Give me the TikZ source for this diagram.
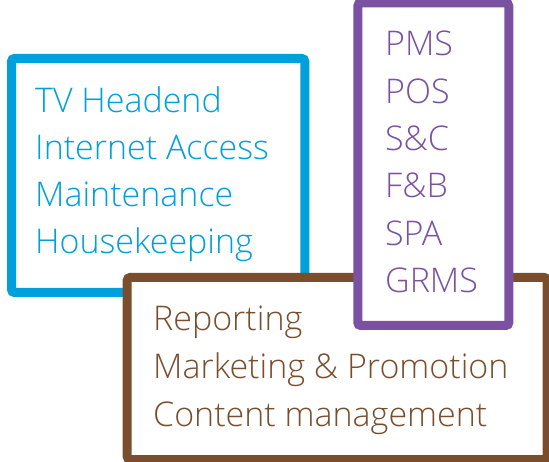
\documentclass[tikz,border=0pt]{standalone}
\usepackage{fontspec}
\setmainfont{Open Sans}[UprightFont=* Light]
\usetikzlibrary{positioning}
\definecolor{tvblue}{RGB}{0,160,220}
\definecolor{pmspurple}{RGB}{123,82,161}
\definecolor{repbrown}{RGB}{122,78,44}

\begin{document}
\begin{tikzpicture}[x=1pt,y=-1pt,
    frame/.style={draw, line width=9pt, fill=white, rounded corners=3pt,
                  inner sep=0pt, outer sep=0pt, anchor=north west},
    item/.style={anchor=base west, inner sep=0pt,
                 font=\fontsize{34}{41}\selectfont}]
    \useasboundingbox (0,0) rectangle (549,462);
    % operations box
    \node[frame, draw=tvblue, minimum width=293.3pt, minimum height=234pt] (tvbox) at (11.5,58.5) {};
    \foreach \txt [count=\i] in {TV Headend, Internet Access, Maintenance, Housekeeping} {
        \node[item, text=tvblue] (tv\i) at (35, 65.5+47.1*\i) {\txt};
    }
    % reporting box
    \node[frame, draw=repbrown, minimum width=420pt, minimum height=182pt] (repbox) at (127.2,277.5) {};
    \foreach \txt [count=\i] in {Reporting, Marketing \& Promotion, Content management} {
        \node[item, text=repbrown] (rep\i) at (153, 282.5+48*\i) {\txt};
    }
    % systems box
    \node[frame, draw=pmspurple, minimum width=151pt, minimum height=322.5pt] (pmsbox) at (357.8,3) {};
    \foreach \txt [count=\i] in {PMS, POS, S\&C, F\&B, SPA, GRMS} {
        \node[item, text=pmspurple] (pms\i) at (385, 8.7+47.3*\i) {\txt};
    }
\end{tikzpicture}
\end{document}
